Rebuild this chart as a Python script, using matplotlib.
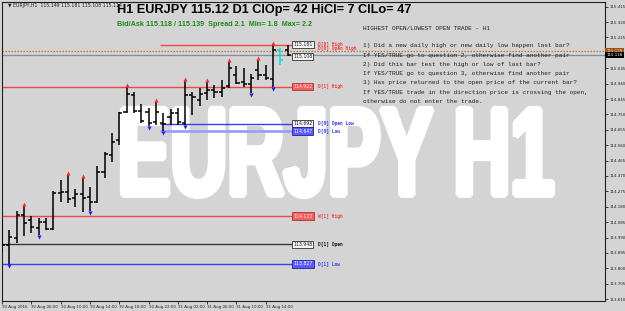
import matplotlib
matplotlib.use('Agg')
import matplotlib.pyplot as plt
from matplotlib.textpath import TextPath
from matplotlib.patches import PathPatch
from matplotlib.font_manager import FontProperties
from matplotlib.transforms import Affine2D, blended_transform_factory

# ---------------- data ----------------
opens  = [113.913, 113.944, 113.987, 114.129, 114.098, 114.049, 114.086, 114.043, 114.265, 114.271,
          114.234, 114.259, 114.240, 114.210, 114.395, 114.500, 114.592, 114.765, 114.870, 114.771,
          114.765, 114.703, 114.697, 114.734, 114.759, 114.697, 114.870, 114.839, 114.882, 114.901,
          114.889, 114.926, 114.993, 114.950, 114.938, 115.024, 114.993, 114.969, 115.148, 115.149]
highs  = [114.098, 114.037, 114.154, 114.185, 114.123, 114.111, 114.111, 114.277, 114.345, 114.376,
          114.290, 114.358, 114.302, 114.432, 114.518, 114.635, 114.765, 114.922, 114.889, 114.814,
          114.790, 114.827, 114.759, 114.784, 114.790, 114.956, 114.889, 114.913, 114.950, 114.932,
          114.963, 115.074, 115.049, 115.037, 115.000, 115.086, 115.055, 115.179, 115.160, 115.181]
lows   = [113.901, 113.827, 113.956, 114.000, 114.018, 114.006, 114.037, 114.037, 114.210, 114.203,
          114.179, 114.148, 114.154, 114.203, 114.358, 114.456, 114.561, 114.759, 114.759, 114.697,
          114.679, 114.685, 114.647, 114.685, 114.685, 114.685, 114.747, 114.802, 114.839, 114.851,
          114.858, 114.913, 114.938, 114.919, 114.882, 114.963, 114.963, 114.919, 115.055, 115.108]
closes = [113.944, 113.993, 114.129, 114.080, 114.055, 114.086, 114.043, 114.265, 114.271, 114.228,
          114.259, 114.234, 114.210, 114.395, 114.506, 114.580, 114.759, 114.876, 114.771, 114.710,
          114.697, 114.765, 114.691, 114.759, 114.703, 114.870, 114.858, 114.876, 114.901, 114.889,
          114.913, 115.037, 114.944, 114.938, 114.975, 114.993, 114.975, 115.148, 115.086, 115.114]
bar_colors = ['black'] * 38 + ['#00e0e0', 'black']

up_arrow_bars = [3, 9, 11, 17, 21, 25, 28, 31, 35, 37]
down_arrow_bars = [1, 5, 12, 20, 22, 25, 34, 37]

time_tick_bars = [0, 4, 8, 12, 16, 20, 24, 28, 32, 36]
time_tick_labels = ["30 Aug 2016", "30 Aug 06:00", "30 Aug 10:00", "30 Aug 14:00", "30 Aug 18:00",
                    "30 Aug 22:00", "31 Aug 02:00", "31 Aug 06:00", "31 Aug 10:00", "31 Aug 14:00"]

price_ticks = [113.610, 113.705, 113.800, 113.895, 113.990, 114.085, 114.180, 114.275, 114.370,
               114.465, 114.560, 114.655, 114.750, 114.845, 114.940, 115.035, 115.225, 115.320, 115.415]

bid = 115.118
ask = 115.139

# levels: value, start bar, name
level_values = [114.122, 114.922, 113.948, 113.827, 115.181, 114.692, 114.647]
level_start  = [0, 0, 0, 0, 22, 22, 22]
level_names  = ["W[1] High", "D[1] High", "D[1] Open", "D[1] Low", "D[0] High", "D[0] Open Low", "D[0] Low"]
extra_box_value = 115.108

title_text = "H1 EURJPY 115.12 D1 ClOp= 42 HiCl= 7 ClLo= 47"
sub_text = "Bid/Ask 115.118 / 115.139  Spread 2.1  Min= 1.8  Max= 2.2"
header_text = "\u25bc EURJPY,H1  115.149 115.181 115.108 115.114"
info_title = "HIGHEST OPEN/LOWEST OPEN TRADE - H1"
info_lines = [
    "1) Did a new daily high or new daily low happen last bar?",
    "If YES/TRUE go to question 2, otherwise find another pair",
    "2) Did this bar test the high or low of last bar?",
    "If YES/TRUE go to question 3, otherwise find another pair",
    "3) Has price returned to the open price of the current bar?",
    "If YES/TRUE trade in the direction price is crossing the open,",
    "otherwise do not enter the trade.",
]
watermark = "EURJPY H1"

# ---------------- styles ----------------
BG = '#d4d4d4'
RED = '#f04848'
BLUE = '#3c3cff'
LBLUE = '#9c9cff'
DARK = '#383838'
W, H = 625, 311

level_colors = [RED, RED, DARK, BLUE, RED, BLUE, LBLUE]
level_lw = [1.0, 1.0, 1.0, 1.0, 1.0, 1.0, 2.0]
box_face = ['#f06060', '#f06060', '#f4f4f4', '#5a5aff', '#f4f4f4', '#f4f4f4', '#5a5aff']
box_text = ['#ffe4e4', '#ffe4e4', '#202020', '#ffffff', '#202020', '#202020', '#ffffff']
box_edge = ['#b03030', '#b03030', '#303030', '#2020a0', '#303030', '#303030', '#2020a0']
name_colors = [RED, RED, '#202020', BLUE, RED, BLUE, BLUE]

fig = plt.figure(figsize=(W / 100, H / 100), dpi=100)
fig.patch.set_facecolor(BG)
ax = fig.add_axes([2 / W, 10 / H, 603 / W, 299 / H])
ax.set_facecolor(BG)

XMIN, XMAX = 0.04, 82.3
ax.set_xlim(XMIN, XMAX)
ax.set_ylim(113.598, 115.444)

# watermark
fp = FontProperties(family='Liberation Sans', weight='bold')
tp = TextPath((0, 0), watermark, size=1, prop=fp)
ext = tp.get_extents()
x0p, x1p, ytop, ybot = 123, 552, 109, 196
sx = (x1p - x0p) / ext.width
sy = (ybot - ytop) / ext.height
tr = Affine2D().translate(-ext.x0, -ext.y0).scale(sx / W, sy / H).translate(x0p / W, (H - ybot) / H) + fig.transFigure
ax.add_patch(PathPatch(tp, facecolor='white', edgecolor='white', lw=4.5, joinstyle='bevel',
                       transform=tr, zorder=0.5, clip_on=False))

# bid / ask
ax.axhline(ask, color='#c07030', lw=0.9, ls=(0, (1.2, 1.2)), zorder=2)
ax.axhline(bid, color='#8090a0', lw=0.9, zorder=2)

# levels
box_x = (293 - 2) / 603
end_bar = (293 - 1.7) / 7.33
btr = blended_transform_factory(ax.transAxes, ax.transData)
for v, s, n, c, lw, bf, bt, be, nc in zip(level_values, level_start, level_names, level_colors, level_lw,
                                          box_face, box_text, box_edge, name_colors):
    ax.hlines(v, s - 0.5 if s else XMIN, end_bar, color=c, lw=lw, zorder=2)
    ax.text(box_x, v, f"{v:.3f}", transform=btr, fontsize=3.3, family='DejaVu Sans', color=bt,
            va='center', ha='left', zorder=5,
            bbox=dict(boxstyle='square,pad=0.25', fc=bf, ec=be, lw=0.6))
    ax.text(box_x + 0.042, v, n, transform=btr, fontsize=3.3, family='DejaVu Sans Mono', color=nc,
            va='center', ha='left', zorder=5, fontweight='bold')
ax.text(box_x + 0.042, level_values[4] - 0.022, "D[0] Open High", transform=btr, fontsize=3.3,
        family='DejaVu Sans Mono', color=RED, va='center', ha='left', zorder=5, fontweight='bold')
ax.text(box_x, extra_box_value, f"{extra_box_value:.3f}", transform=btr, fontsize=3.3, color='#202020',
        va='center', ha='left', zorder=5, bbox=dict(boxstyle='square,pad=0.25', fc='#f4f4f4', ec='#303030', lw=0.6))

# OHLC bars
xs = list(range(len(opens)))
ax.vlines(xs, lows, highs, colors=bar_colors, lw=1.1, zorder=3)
ax.hlines(opens, [x - 0.42 for x in xs], xs, colors=bar_colors, lw=1.1, zorder=3)
ax.hlines(closes, xs, [x + 0.42 for x in xs], colors=bar_colors, lw=1.1, zorder=3)

# arrows
ax.scatter(up_arrow_bars, [highs[i] + 0.012 for i in up_arrow_bars], marker='^', s=9, color='#ff3030',
           zorder=4, lw=0)
ax.scatter(down_arrow_bars, [lows[i] - 0.012 for i in down_arrow_bars], marker='v', s=9, color='#2020ff',
           zorder=4, lw=0)

# axes styling
for sp in ax.spines.values():
    sp.set_color('#202020')
    sp.set_linewidth(0.8)
ax.yaxis.tick_right()
ax.set_yticks(price_ticks)
ax.set_yticklabels([f"{p:.3f}" for p in price_ticks])
ax.set_xticks(time_tick_bars)
ax.set_xticklabels(time_tick_labels, ha='left')
ax.tick_params(axis='y', labelsize=2.9, length=2, width=0.6, pad=1.0, colors='#202020')
ax.tick_params(axis='x', labelsize=2.9, length=2, width=0.6, pad=1.2, colors='#202020')
for lbl in ax.get_xticklabels():
    lbl.set_horizontalalignment('left')

# price highlight boxes on right axis
ax.text(1.002, ask, f"{ask:.3f}", transform=btr, fontsize=2.9, color='#f0d0b0', va='center', ha='left',
        bbox=dict(boxstyle='square,pad=0.3', fc='#a0521e', ec='none'), clip_on=False, zorder=6)
ax.text(1.002, bid, f"{bid:.3f}", transform=btr, fontsize=2.9, color='white', va='center', ha='left',
        bbox=dict(boxstyle='square,pad=0.3', fc='black', ec='none'), clip_on=False, zorder=6)

# texts
fig.text(8 / W, 1 - 5 / H, header_text, fontsize=3.3, color='#202020', va='center', ha='left')
fig.text(117 / W, 1 - 10 / H, title_text, fontsize=9.2, fontweight='bold', family='Liberation Sans',
         color='black', va='center', ha='left')
fig.text(117 / W, 1 - 25 / H, sub_text, fontsize=5.2, fontweight='bold', family='Liberation Sans',
         color='#1a8c1a', va='center', ha='left')
fig.text(363 / W, 1 - 28 / H, info_title, fontsize=4.4, family='Liberation Mono', color='#202020',
         va='center', ha='left')
info_y = [45.5, 55.5, 64.8, 73.8, 82.8, 92.2, 101.5]
for t, yy in zip(info_lines, info_y):
    fig.text(363 / W, 1 - yy / H, t, fontsize=4.4, family='Liberation Mono', color='#202020',
             va='center', ha='left', zorder=7)

fig.savefig('out.png', dpi=100, facecolor=BG)
